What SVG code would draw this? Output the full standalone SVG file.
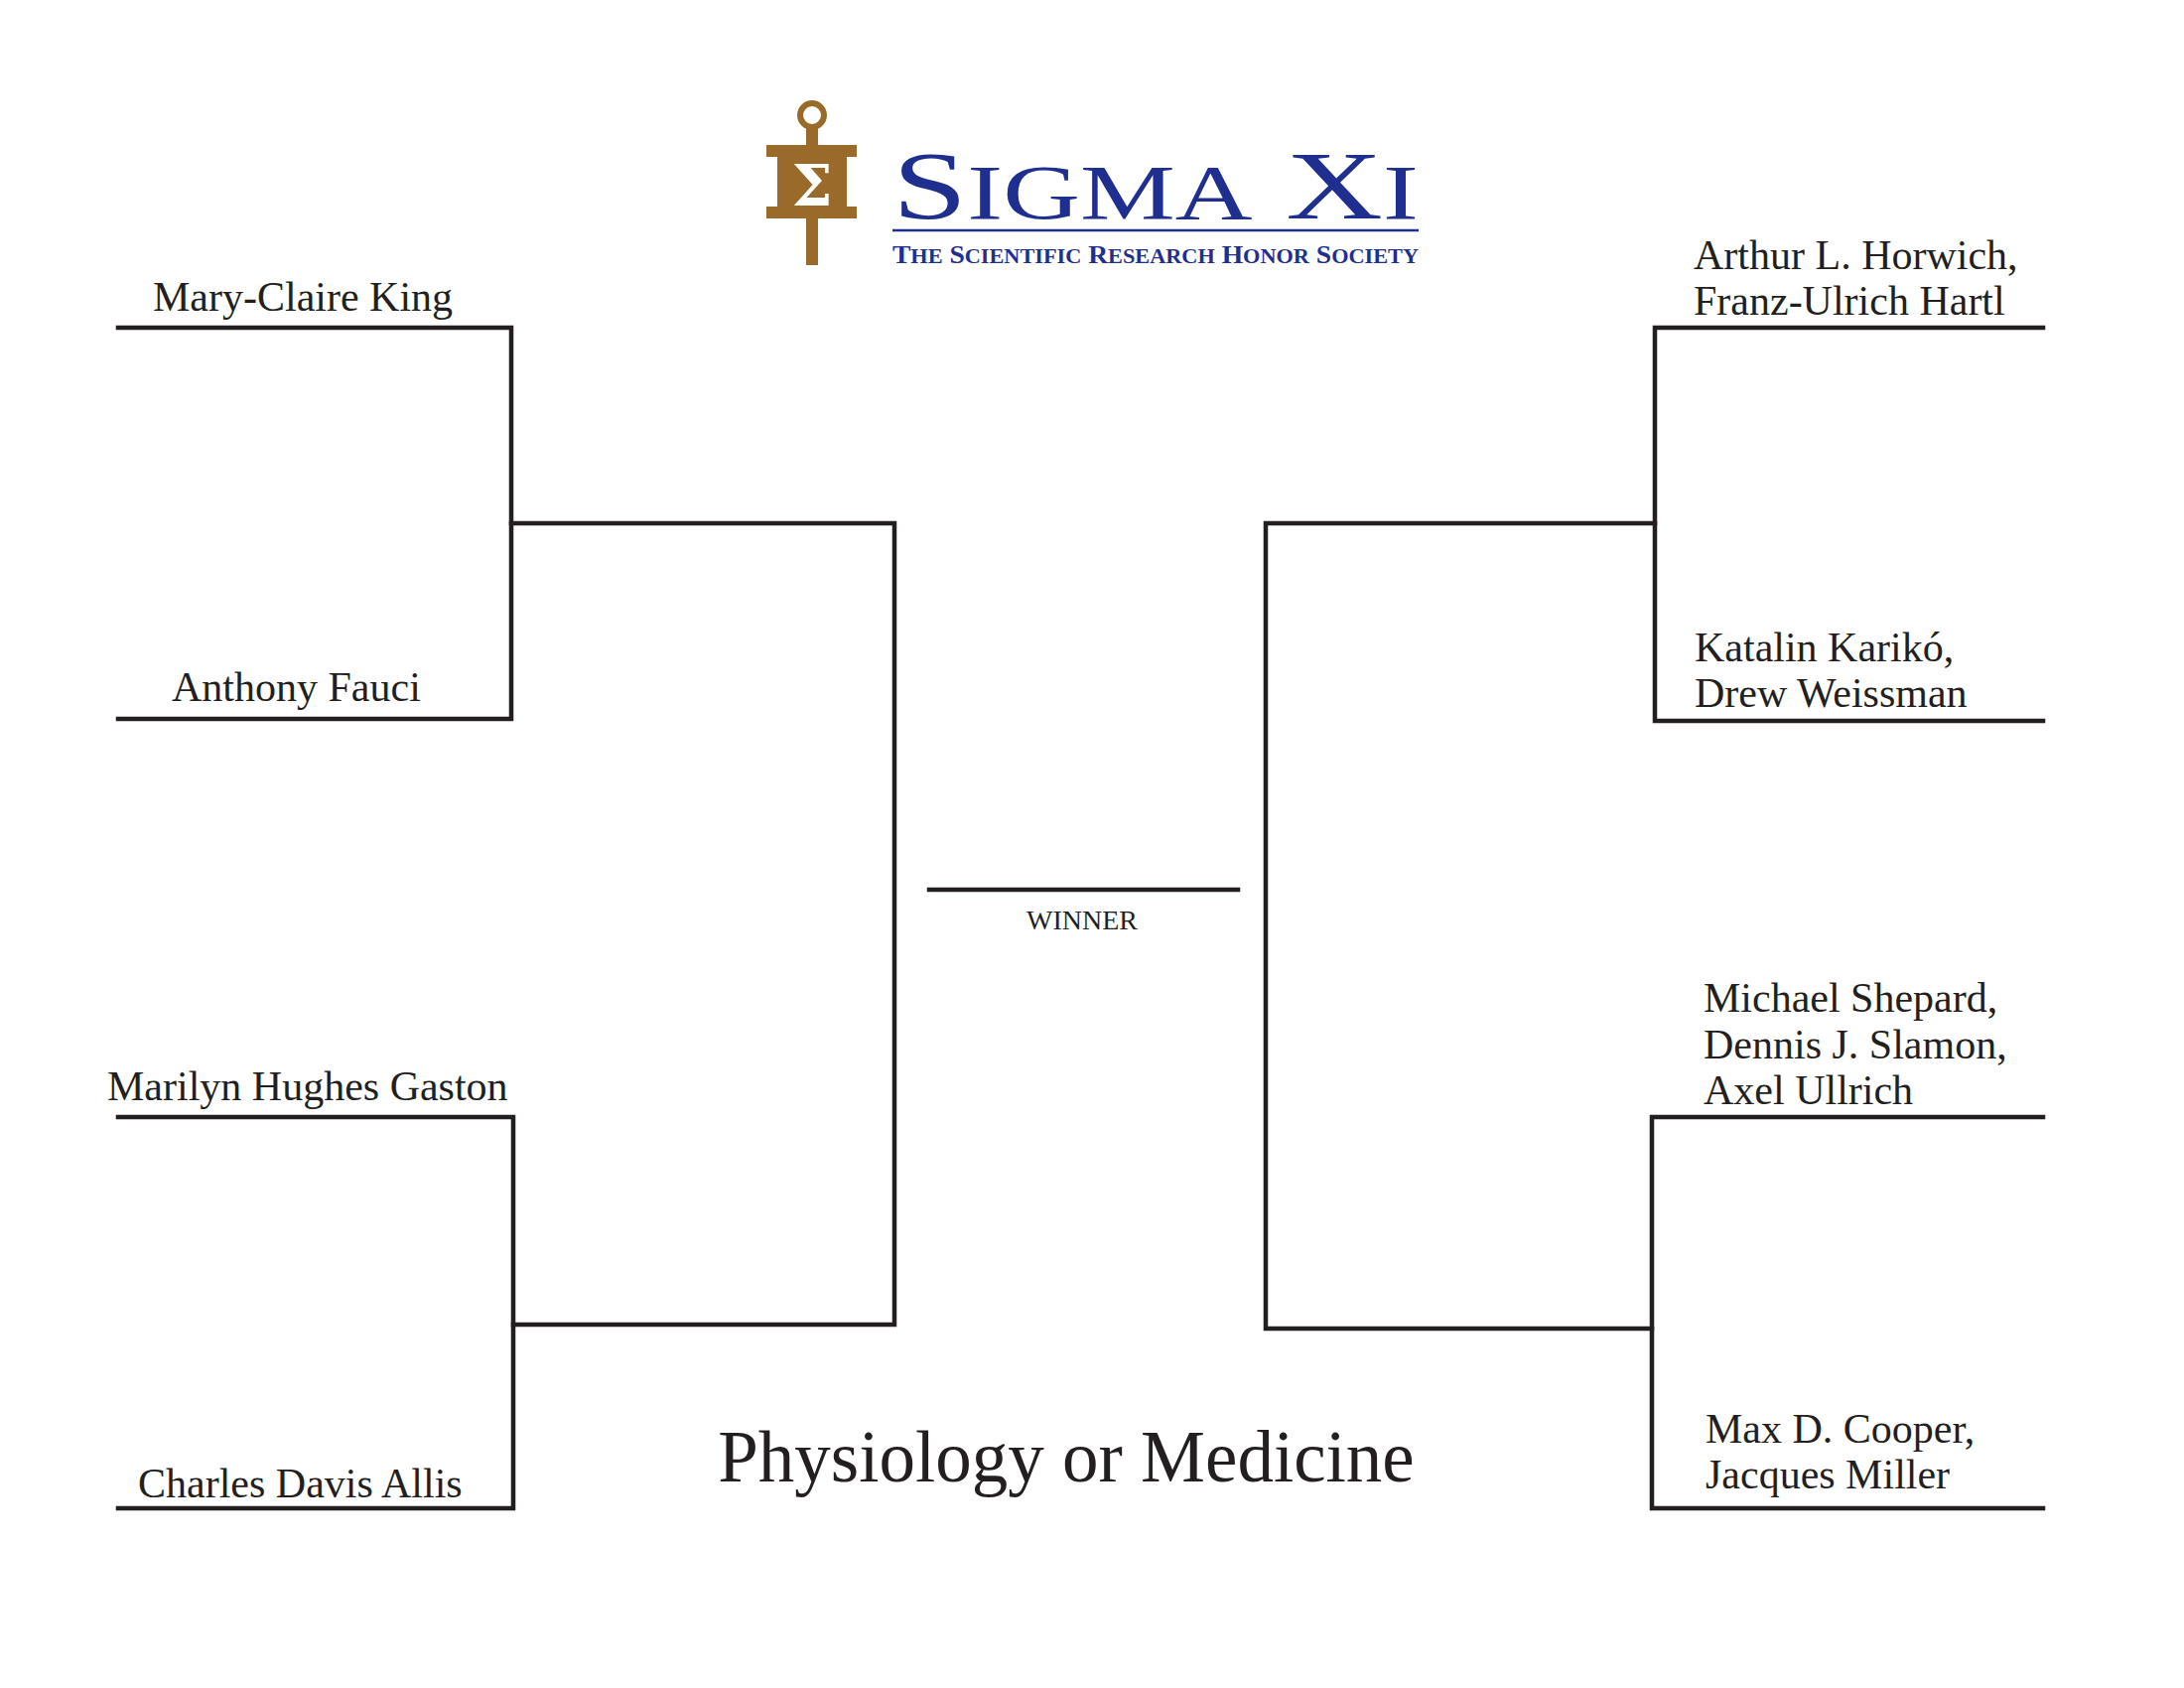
<svg xmlns="http://www.w3.org/2000/svg" width="2200" height="1700" viewBox="0 0 2200 1700">
<style>
.l{fill:none;stroke:#231f20;stroke-width:4.5;stroke-linecap:square}
.n{font-family:"Liberation Serif",serif;font-size:42px;fill:#231f20}
.b{fill:#9a6a2a}
.s{fill:#1f2f8f;font-family:"Liberation Serif",serif}
</style>
<rect width="2200" height="1700" fill="#fff"/>
<g id="logo">
<circle cx="818" cy="116" r="12" fill="none" stroke="#9a6a2a" stroke-width="6"/>
<rect class="b" x="812" y="128" width="12" height="139"/>
<rect class="b" x="772" y="146" width="91" height="12"/>
<rect class="b" x="772" y="208" width="91" height="12"/>
<rect class="b" x="783" y="153" width="70" height="62"/>
<text x="818" y="207" text-anchor="middle" font-family="DejaVu Serif,serif" font-size="58" font-weight="bold" fill="#fff">Σ</text>
<text class="s" x="899" y="220" font-size="98" textLength="530" lengthAdjust="spacingAndGlyphs">S<tspan font-size="78">IGMA</tspan> X<tspan font-size="78">I</tspan></text>
<line x1="899" y1="232" x2="1429" y2="232" stroke="#1f2f8f" stroke-width="2.5"/>
<text class="s" x="899" y="265" font-size="26" font-weight="bold" textLength="530" lengthAdjust="spacingAndGlyphs">T<tspan font-size="21">HE</tspan> S<tspan font-size="21">CIENTIFIC</tspan> R<tspan font-size="21">ESEARCH</tspan> H<tspan font-size="21">ONOR</tspan> S<tspan font-size="21">OCIETY</tspan></text>
</g>
<g id="connectors">
<polyline class="l" points="119,330 515,330 515,724 119,724"/>
<polyline class="l" points="515,527 901,527 901,1334 517,1334"/>
<polyline class="l" points="119,1125 517,1125 517,1519 119,1519"/>
<line class="l" x1="936" y1="896" x2="1247" y2="896"/>
<polyline class="l" points="2058,330 1667,330 1667,726 2058,726"/>
<polyline class="l" points="1667,527 1275,527 1275,1338 1664,1338"/>
<polyline class="l" points="2058,1125 1664,1125 1664,1519 2058,1519"/>
</g>
<g id="n1"><text class="n" x="154" y="313">Mary-Claire King</text></g>
<g id="n2"><text class="n" x="173" y="706">Anthony Fauci</text></g>
<g id="n3"><text class="n" x="108" y="1108">Marilyn Hughes Gaston</text></g>
<g id="n4"><text class="n" x="139" y="1508">Charles Davis Allis</text></g>
<g id="n5"><text class="n" x="1706" y="271">Arthur L. Horwich,</text><text class="n" x="1706" y="317">Franz-Ulrich Hartl</text></g>
<g id="n6"><text class="n" x="1707" y="666">Katalin Karikó,</text><text class="n" x="1707" y="712">Drew Weissman</text></g>
<g id="n7"><text class="n" x="1716" y="1019">Michael Shepard,</text><text class="n" x="1716" y="1066">Dennis J. Slamon,</text><text class="n" x="1716" y="1112">Axel Ullrich</text></g>
<g id="n8"><text class="n" x="1718" y="1453">Max D. Cooper,</text><text class="n" x="1718" y="1499">Jacques Miller</text></g>
<g id="winner"><text x="1090" y="936" text-anchor="middle" font-family="Liberation Serif,serif" font-size="28" fill="#231f20">WINNER</text></g>
<g id="title"><text x="1074" y="1492" text-anchor="middle" font-family="Liberation Serif,serif" font-size="73" fill="#231f20">Physiology or Medicine</text></g>
</svg>
